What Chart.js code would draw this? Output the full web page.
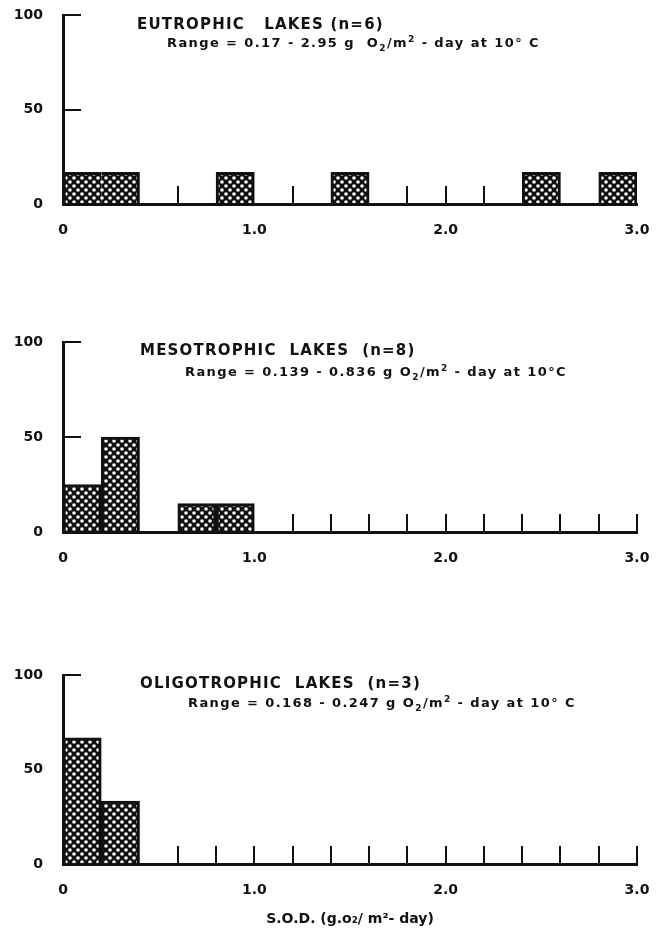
<!DOCTYPE html>
<html>
<head>
<meta charset="utf-8">
<script src="https://cdn.jsdelivr.net/npm/chart.js@4.4.1/dist/chart.umd.min.js"></script>
<style>
    body { margin: 0; background: #fff; }
    #page { position: relative; width: 664px; height: 931px; overflow: hidden; font-family: "DejaVu Sans", sans-serif; color: #111; }
    #page canvas { position: absolute; left: 0; }
    .ttl { position: absolute; white-space: pre; font-weight: bold; font-size: 15px; letter-spacing: 1.2px; line-height: 16px; }
    .rng { position: absolute; white-space: pre; font-weight: bold; font-size: 13px; letter-spacing: 1.4px; line-height: 16px; }
    .rng sub, .rng sup { font-size: 9px; line-height: 0; }
</style>
</head>
<body>
<div id="page">
    <canvas id="eutroChart" width="664" height="300" style="top:0"></canvas>
    <canvas id="mesoChart" width="664" height="300" style="top:327px"></canvas>
    <canvas id="oligoChart" width="664" height="271" style="top:660px"></canvas>

    <div class="ttl" style="left:137px; top:16px">EUTROPHIC   LAKES (n=6)</div>
    <div class="rng" style="left:167px; top:35px">Range = 0.17 - 2.95 g  O<sub>2</sub>/m<sup>2</sup> - day at 10° C</div>

    <div class="ttl" style="left:140px; top:342px">MESOTROPHIC  LAKES  (n=8)</div>
    <div class="rng" style="left:185px; top:364px">Range = 0.139 - 0.836 g O<sub>2</sub>/m<sup>2</sup> - day at 10°C</div>

    <div class="ttl" style="left:140px; top:675px">OLIGOTROPHIC  LAKES  (n=3)</div>
    <div class="rng" style="left:188px; top:695px">Range = 0.168 - 0.247 g O<sub>2</sub>/m<sup>2</sup> - day at 10° C</div>
</div>

<script>
    // S.O.D. classes, 0.2 wide
    var binMids = [0.1, 0.3, 0.5, 0.7, 0.9, 1.1, 1.3, 1.5, 1.7, 1.9, 2.1, 2.3, 2.5, 2.7, 2.9];
    var binEdges = [0, 0.2, 0.4, 0.6, 0.8, 1.0, 1.2, 1.4, 1.6, 1.8, 2.0, 2.2, 2.4, 2.6, 2.8, 3.0];
    var xLabels = ['0', '1.0', '2.0', '3.0'];
    var yTicks = [0, 50, 100];

    // percent of lakes in each class
    var eutrophic = [16.7, 16.7, null, null, 16.7, null, null, 16.7, null, null, null, null, 16.7, null, 16.7];
    var mesotrophic = [25, 50, null, 15, 15, null, null, null, null, null, null, null, null, null, null];
    var oligotrophic = [66.7, 33.3, null, null, null, null, null, null, null, null, null, null, null, null, null];

    var FONT = 'DejaVu Sans';
    var INK = '#111';

    function makeTexture(ctx) {
        var c = document.createElement('canvas');
        c.width = 8;
        c.height = 8;
        var g = c.getContext('2d');
        g.fillStyle = INK;
        g.fillRect(0, 0, 8, 8);
        g.fillStyle = '#fff';
        [[2, 2], [6, 6], [6, -2], [-2, 6], [10, 6], [6, 10]].forEach(function (p) {
            g.beginPath();
            g.arc(p[0], p[1], 1.8, 0, Math.PI * 2);
            g.fill();
        });
        return ctx.createPattern(c, 'repeat');
    }

    function makePanel(id, values, xHeight, opts) {
        opts = opts || {};
        var canvas = document.getElementById(id);
        var ctx = canvas.getContext('2d');
        var texture = makeTexture(ctx);

        return new Chart(ctx, {
            type: 'bar',
            data: {
                datasets: [{
                    data: binMids.map(function (x, i) { return { x: x, y: values[i] }; }),
                    backgroundColor: texture,
                    borderColor: INK,
                    borderWidth: function (c) {
                        return (opts.borders && opts.borders[c.dataIndex]) || 3;
                    },
                    borderSkipped: 'bottom',
                    barPercentage: 1,
                    categoryPercentage: 1
                }]
            },
            options: {
                responsive: false,
                animation: false,
                events: [],
                layout: { padding: { top: 15, right: 27, left: 0, bottom: 0 } },
                plugins: { legend: { display: false }, tooltip: { enabled: false } },
                scales: {
                    x: {
                        type: 'linear',
                        min: 0,
                        max: 3,
                        offset: false,
                        afterBuildTicks: function (scale) {
                            scale.ticks = binEdges.map(function (v) { return { value: v }; });
                        },
                        afterFit: function (scale) {
                            scale.height = xHeight;
                            scale.paddingLeft = 0;
                            scale.paddingRight = 0;
                        },
                        grid: {
                            offset: false,
                            drawOnChartArea: false,
                            drawTicks: true,
                            tickLength: -18,
                            // class marks only show where no bar edge sits
                            color: function (c) {
                                var i = c.index;
                                var hasBar = values[i] != null || values[i - 1] != null;
                                return hasBar ? 'rgba(0,0,0,0)' : INK;
                            },
                            lineWidth: 2
                        },
                        border: { display: true, color: INK, width: 3 },
                        ticks: {
                            autoSkip: false,
                            maxRotation: 0,
                            padding: 36,
                            color: INK,
                            font: { family: FONT, size: 14, weight: 'bold' },
                            callback: function (v) {
                                var r = Math.round(v);
                                return Math.abs(v - r) < 1e-6 ? xLabels[r] : '';
                            }
                        },
                        title: {
                            display: !!opts.xTitle,
                            text: opts.xTitle || '',
                            color: INK,
                            font: { family: FONT, size: 14, weight: 'bold' },
                            padding: { top: 0, bottom: 3 }
                        }
                    },
                    y: {
                        min: 0,
                        max: 100,
                        afterBuildTicks: function (scale) {
                            scale.ticks = yTicks.map(function (v) { return { value: v }; });
                        },
                        afterFit: function (scale) {
                            scale.width = 63;
                            scale.paddingTop = 0;
                            scale.paddingBottom = 0;
                        },
                        grid: {
                            drawOnChartArea: false,
                            drawTicks: true,
                            tickLength: -18,
                            color: INK,
                            lineWidth: 2
                        },
                        border: { display: true, color: INK, width: 3 },
                        ticks: {
                            padding: 38,
                            color: INK,
                            font: { family: FONT, size: 14, weight: 'bold' }
                        }
                    }
                }
            }
        });
    }

    // first two eutrophic classes are drawn as one block
    makePanel('eutroChart', eutrophic, 96, {
        borders: { 0: { top: 3, left: 3, right: 0, bottom: 0 }, 1: { top: 3, right: 3, left: 0, bottom: 0 } }
    });
    makePanel('mesoChart', mesotrophic, 95);
    makePanel('oligoChart', oligotrophic, 67, { xTitle: 'S.O.D. (g.o₂/ m²- day)' });
</script>
</body>
</html>
